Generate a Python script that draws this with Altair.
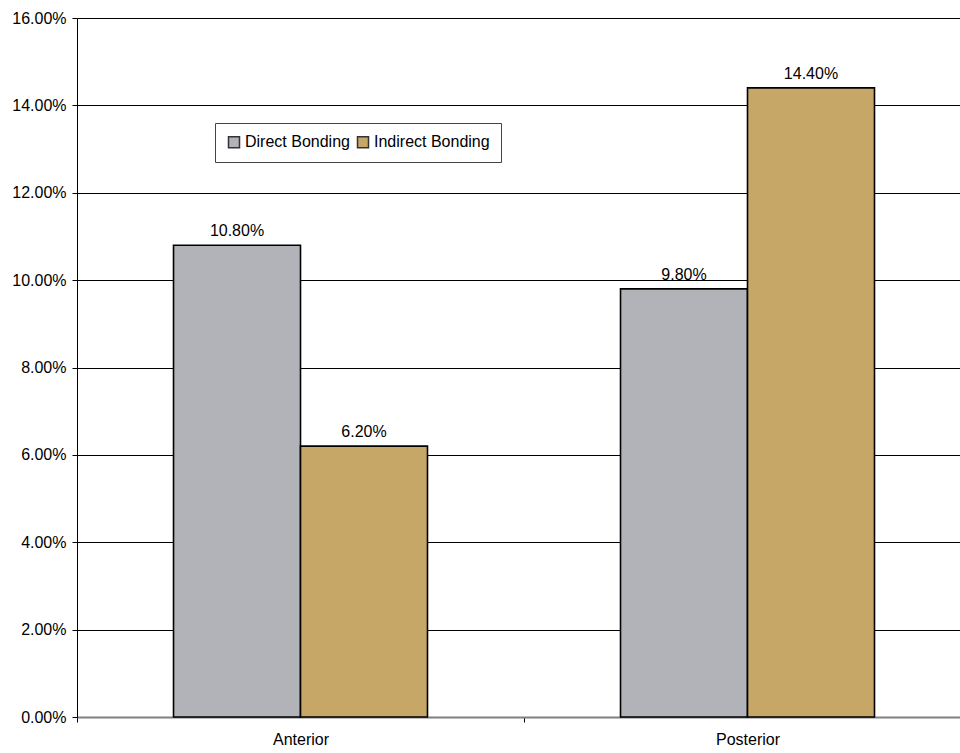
import altair as alt
import pandas as pd

# Bond failure rates by tooth region and bonding technique
positions = ["Anterior", "Posterior"]
methods = ["Direct Bonding", "Indirect Bonding"]
direct_rates = [0.108, 0.098]
indirect_rates = [0.062, 0.144]
y_ticks = [0.0, 0.02, 0.04, 0.06, 0.08, 0.10, 0.12, 0.14, 0.16]
method_colors = ["#b2b3b9", "#c7a767"]

rows = []
for pos, d, i in zip(positions, direct_rates, indirect_rates):
    rows.append({"Position": pos, "Method": methods[0], "Rate": d})
    rows.append({"Position": pos, "Method": methods[1], "Rate": i})
df = pd.DataFrame(rows)

FONT = "Liberation Sans"

base = alt.Chart(df).encode(
    x=alt.X(
        "Position:N",
        sort=positions,
        scale=alt.Scale(range=[0, 894], paddingInner=0, paddingOuter=0),
        axis=alt.Axis(
            title=None,
            labelAngle=0,
            grid=False,
            domainColor="#808080",
            domainWidth=2,
            tickColor="black",
            tickSize=5,
            tickBand="extent",
            labelPadding=9,
            labelFontSize=16,
            labelFont=FONT,
            labelColor="black",
        ),
    ),
    xOffset=alt.XOffset(
        "Method:N", sort=methods,
        scale=alt.Scale(paddingInner=0, paddingOuter=0.76),
    ),
    y=alt.Y(
        "Rate:Q",
        scale=alt.Scale(domain=[0, 0.16], nice=False),
        axis=alt.Axis(
            title=None,
            values=y_ticks,
            format=".2%",
            grid=True,
            gridColor="black",
            gridWidth=1,
            domainColor="black",
            tickColor="black",
            tickSize=5,
            labelPadding=6,
            labelFontSize=16,
            labelFont=FONT,
            labelColor="black",
        ),
    ),
)

bars = base.mark_bar(stroke="black", strokeWidth=1.6).encode(
    color=alt.Color(
        "Method:N",
        sort=methods,
        scale=alt.Scale(domain=methods, range=method_colors),
        legend=alt.Legend(
            title=None,
            orient="none",
            legendX=138,
            legendY=105,
            direction="horizontal",
            padding=11,
            strokeColor="#444444",
            fillColor="white",
            symbolType="square",
            symbolSize=121,
            symbolStrokeColor="#333333",
            symbolStrokeWidth=1.5,
            labelFontSize=16,
            labelFont=FONT,
            labelColor="black",
            labelOffset=3,
            columnPadding=4,
        ),
    )
)

labels = base.mark_text(
    baseline="alphabetic", dy=-9, fontSize=16, font=FONT, color="black"
).encode(text=alt.Text("Rate:Q", format=".2%"))

chart = (
    alt.layer(bars, labels)
    .properties(
        width=883,
        height=699,
        autosize=alt.AutoSizeParams(type="none"),
        padding={"left": 77, "top": 18, "right": 0, "bottom": 36},
    )
    .configure_view(stroke=None)
    .configure(background="white")
)

chart.save("out.html", embed_options={"renderer": "svg", "actions": False})
